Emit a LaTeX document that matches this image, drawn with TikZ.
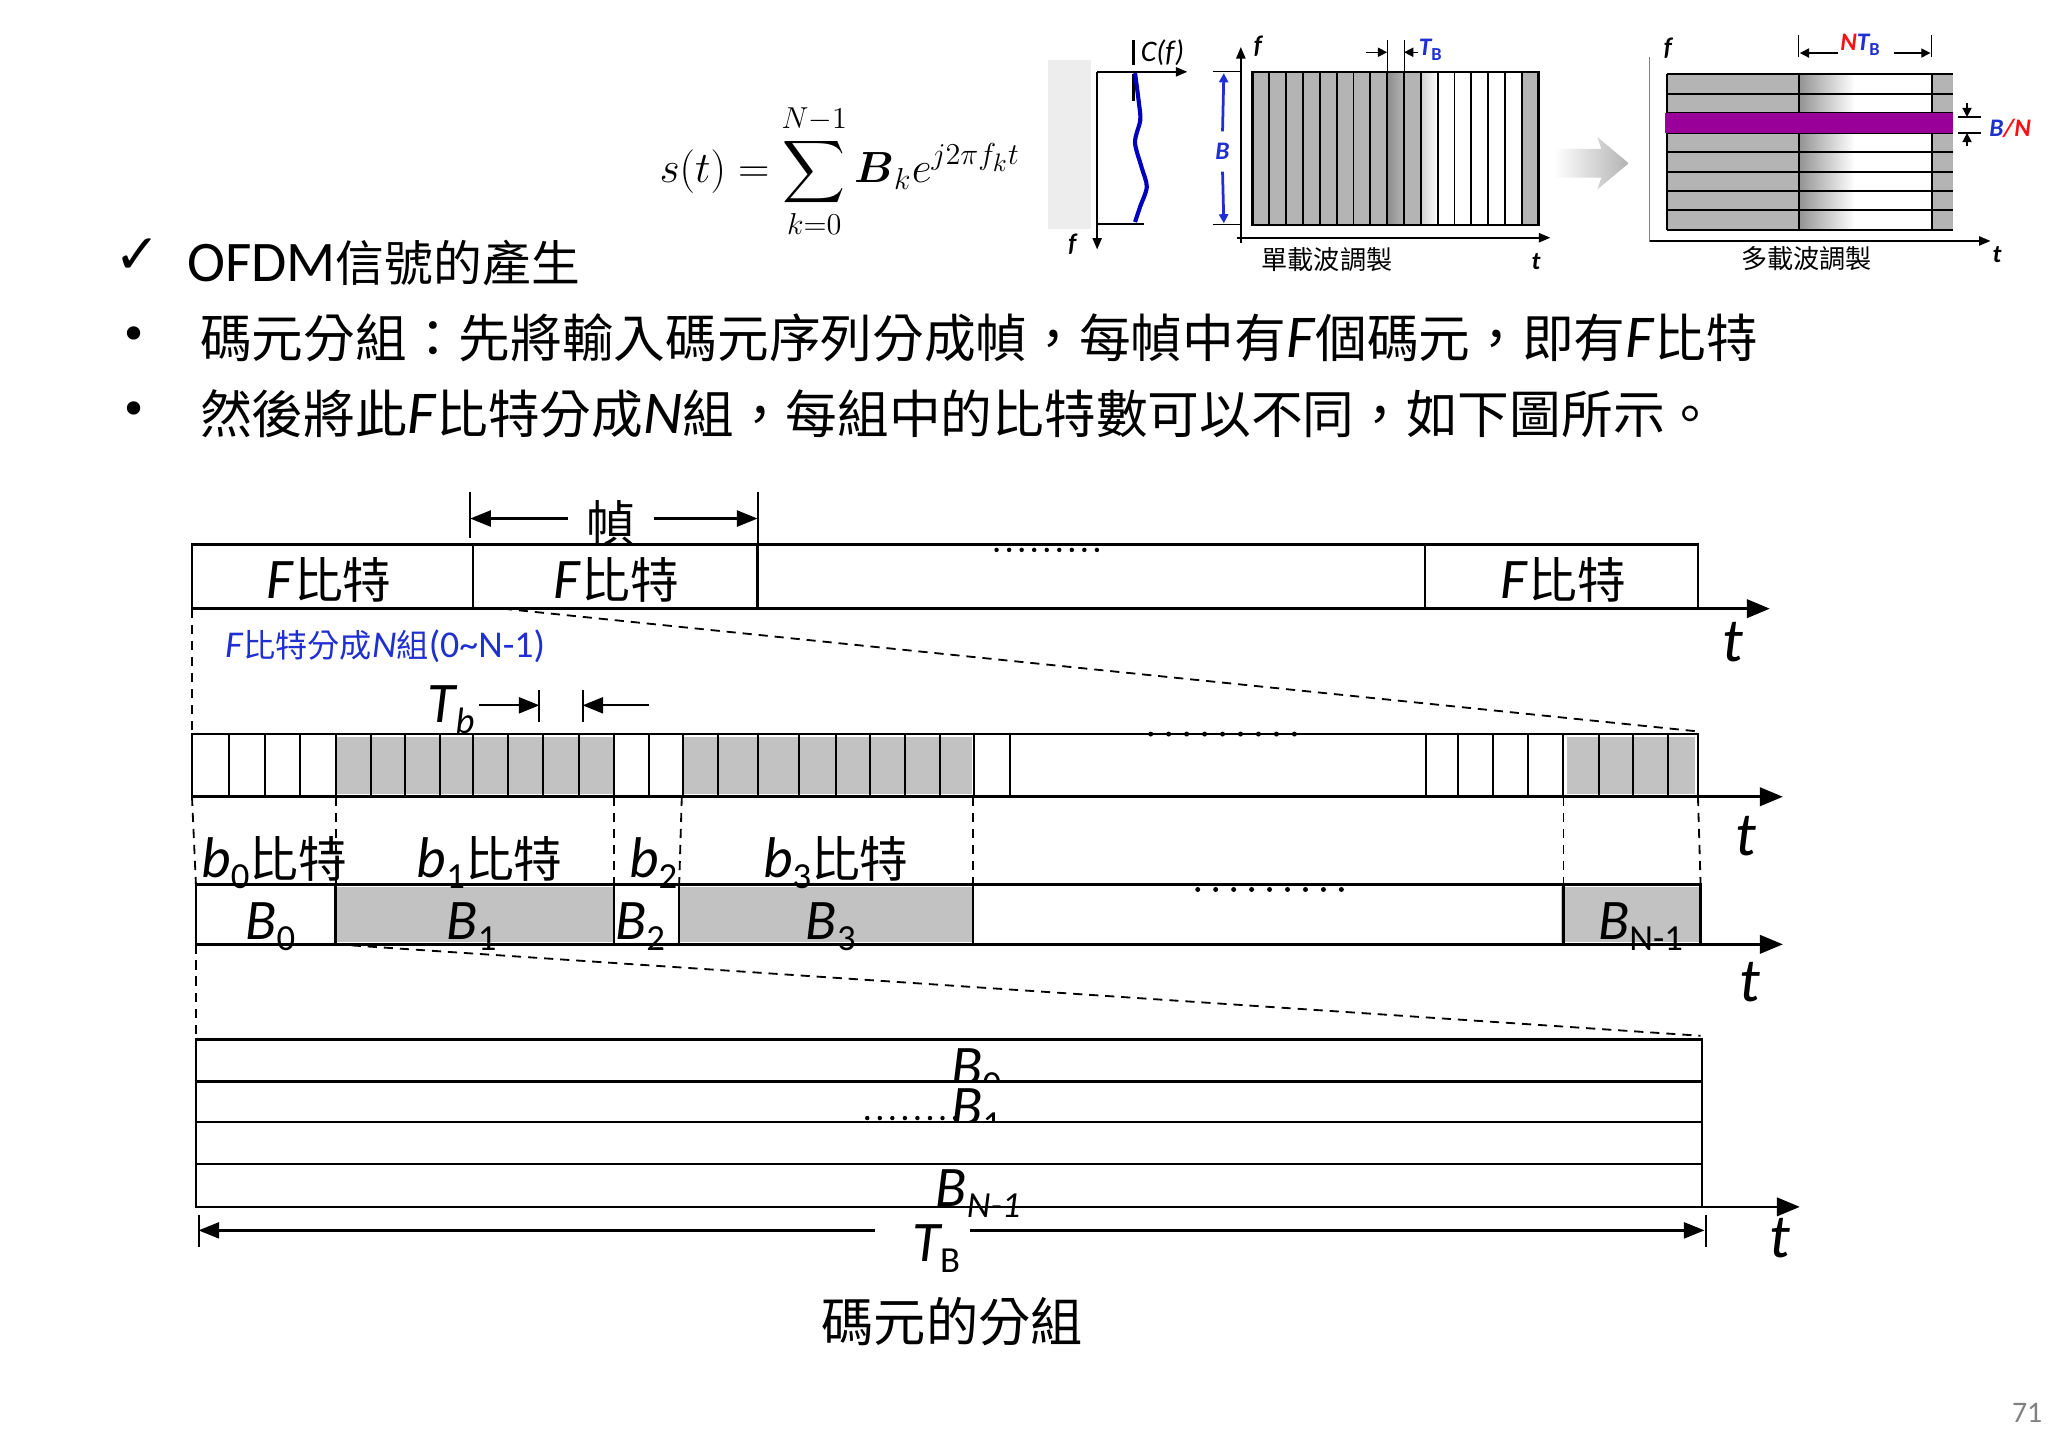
\documentclass[tikz,border=0pt]{standalone}
\usepackage{fontspec}
\usepackage{amsmath}
\usepackage{amssymb}
\setmainfont{Carlito}
\newfontfamily\cjk[Scale=0.85]{Noto Sans CJK TC}
\newfontfamily\symfont{DejaVu Sans}
\usetikzlibrary{arrows.meta,positioning,calc}

\definecolor{cellgray}{HTML}{C2C2C2}
\definecolor{figgray}{HTML}{B4B4B4}
\definecolor{bandpurple}{HTML}{990099}
\definecolor{textblue}{HTML}{1F2FD0}
\definecolor{textred}{HTML}{FF1010}

\newcommand{\zh}[1]{{\cjk #1}}
\newcommand{\fs}[1]{\fontsize{#1}{#1}\selectfont}
\newcommand{\sv}[2]{{\itshape #1}\raisebox{-0.4ex}{\fs{16}#2}}
\newcommand{\ssv}[2]{#1\raisebox{-0.4ex}{\fs{8}\upshape #2}}

\tikzset{
  frameline/.style={line width=1.1pt},
  cellline/.style={line width=0.85pt},
  taxis/.style={line width=1.2pt, -{Triangle[length=10pt,width=8pt]}},
  figaxis/.style={line width=0.8pt, -{Triangle[length=5pt,width=4pt]}},
  guide/.style={line width=0.8pt, dash pattern=on 4pt off 3pt},
  dimarrow/.style={line width=1pt, -{Triangle[length=9pt,width=7pt]}},
  smallarrow/.style={line width=0.6pt, -{Triangle[length=4pt,width=4pt]}},
  dimtick/.style={line width=0.9pt},
  lbl/.style={inner sep=0pt, font=\fs{25}},
  tlbl/.style={inner sep=0pt, font=\fs{27}\itshape},
  figlbl/.style={inner sep=0pt, font=\fs{11}\bfseries\itshape},
  figcap/.style={inner sep=0pt, font=\fs{13.4}},
  graycell/.style={fill=cellgray},
}

\begin{document}
\begin{tikzpicture}[x=0.2mm, y=-0.2mm]
    \useasboundingbox (0,0) rectangle (1568,1108);

    % Heading and text
    \node[inner sep=0pt, font=\symfont\fs{24}] (chk) at (105,196) {✓};
    \node[anchor=west, inner sep=0pt, font=\fs{25}] (title) at (143,201) {OFDM\zh{信號的產生}};
    \node[inner sep=0pt, font=\symfont\fs{20}] (dot1) at (103,259) {•};
    \node[anchor=west, inner sep=0pt, font=\fs{26.5}] (line1) at (153,259) {\zh{碼元分組：先將輸入碼元序列分成幀，每幀中有}\textit{F}\zh{個碼元，即有}\textit{F}\zh{比特}};
    \node[inner sep=0pt, font=\symfont\fs{20}] (dot2) at (103,317) {•};
    \node[anchor=west, inner sep=0pt, font=\fs{26.5}] (line2) at (153,317) {\zh{然後將此}\textit{F}\zh{比特分成}\textit{N}\zh{組，每組中的比特數可以不同，如下圖所示。}};

    % Formula
    \node[inner sep=0pt, font=\fs{17.28}] (sig) at (643,131) {\scalebox{1.1}{$\displaystyle s(t)=\sum_{k=0}^{N-1}\boldsymbol{B}_k e^{j2\pi f_k t}$}};

    % Channel response
    \fill[gray!14] (802,46) rectangle (835,175);
    \draw[figaxis] (840,55) -- (909,55);
    \draw[figaxis] (840,55) -- (840,191);
    \draw[line width=0.8pt] (840,171.5) -- (876,171.5);
    \draw[line width=1.3pt] (868,31) -- (868,50) (868,57) -- (868,77);
    \node[inner sep=0pt, font=\fs{13}\itshape] (cf) at (890,40) {C(f)};
    \node[figlbl] (cfaxis) at (821,187) {f};
    \draw[blue!75!black, line width=1.8pt] plot[smooth] coordinates {(869,56) (872,79) (873,92) (869,109) (874,128) (878,143) (873,158) (869,170)};

    % Single carrier
    \fill[figgray] (959,55) rectangle (1062,172);
    \shade[left color=gray!90, right color=figgray] (1062,55) rectangle (1075,172);
    \fill[figgray] (1075,55) rectangle (1088,172);
    \shade[left color=gray!35, right color=white] (1088,55) rectangle (1101,172);
    \fill[figgray] (1165,55) rectangle (1178,172);
    \foreach \i in {1,...,16}
        \draw[line width=0.8pt] ({959+\i*12.88},55) -- ({959+\i*12.88},172);
    \draw[line width=1pt] (959,55) rectangle (1178,172);
    \draw[figaxis] (950,186) -- (950,36);
    \draw[figaxis] (947,182) -- (1187,182);
    \node[figlbl] (scf) at (963,35) {f};
    \node[figlbl] (sct) at (1176,200) {t};
    \draw[line width=0.5pt] (1062,31) -- (1062,55) (1075,31) -- (1075,55);
    \node[figlbl, anchor=west, text=textblue] (tbs) at (1086,38) {\ssv{T}{B}};
    \coordinate (tbsa) at (1046,40);
    \coordinate (tbsl) at (1062,40);
    \coordinate (tbsr) at (1075,40);
    \draw[smallarrow] (tbsa) -- (tbsl);
    \draw[smallarrow] (tbs.west |- tbsr) -- (tbsr);
    \draw[line width=0.5pt] (929,55) -- (950,55) (929,172) -- (950,172);
    \node[figlbl, text=textblue, inner ysep=5pt] (bw) at (936,116) {B};
    \coordinate (bwt) at (937,56);
    \coordinate (bwb) at (937,171);
    \draw[smallarrow, textblue, line width=1.2pt] (bw.north) -- (bwt);
    \draw[smallarrow, textblue, line width=1.2pt] (bw.south) -- (bwb);
    \node[figcap] (sctxt) at (1016,199) {\zh{單載波調製}};

    % Big arrow
    \shade[left color=white, right color=gray!60] (1190,114) -- (1226,114) -- (1223,105) -- (1247,125) -- (1223,145) -- (1226,136) -- (1190,136) -- cycle;

    % Multi carrier
    \fill[figgray] (1276,57) rectangle (1377,176);
    \shade[left color=gray!85, right color=white] (1377,57) rectangle (1420,176);
    \fill[figgray] (1479,57) rectangle (1495,176);
    \foreach \k in {0,...,8}
        \draw[line width=0.9pt] (1276,{57+\k*14.875}) -- (1495,{57+\k*14.875});
    \foreach \x in {1276,1377,1479}
        \draw[line width=0.9pt] (\x,57) -- (\x,176);
    \fill[bandpurple] (1275,86.8) rectangle (1495,101.6);
    \draw[gray, line width=0.6pt] (1263,185) -- (1263,44);
    \draw[figaxis] (1263,184.5) -- (1524,184.5);
    \node[figlbl] (mcf) at (1277,37) {f};
    \node[figlbl] (mct) at (1529,195) {t};
    \draw[line width=0.5pt] (1377,27) -- (1377,44) (1479,27) -- (1479,44);
    \node[figlbl] (ntb) at (1424,34) {\textcolor{textred}{N}\textcolor{textblue}{\ssv{T}{B}}};
    \coordinate (ntl) at (1378,40.6);
    \coordinate (ntr) at (1478,40.6);
    \draw[smallarrow] ($(ntb.west |- ntl)+(-1pt,0)$) -- (ntl);
    \draw[smallarrow] ($(ntb.east |- ntr)+(6pt,0)$) -- (ntr);
    \draw[line width=0.5pt] (1499,89.6) -- (1517,89.6) (1499,101.8) -- (1517,101.8);
    \coordinate (bnta) at (1506,79);
    \coordinate (bnt) at (1506,89.6);
    \coordinate (bnba) at (1506,112);
    \coordinate (bnb) at (1506,101.8);
    \draw[smallarrow] (bnta) -- (bnt);
    \draw[smallarrow] (bnba) -- (bnb);
    \node[figlbl] (bn) at (1539,98) {\textcolor{textblue}{B}\textcolor{textred}{/N}};
    \node[figcap] (mctxt) at (1383,198) {\zh{多載波調製}};

    % Row 1: frames
    \draw[frameline] (147,466) -- (147,417) -- (1300,417) -- (1300,466);
    \foreach \x in {362,580,1091}
        \draw[frameline] (\x,417) -- (\x,466);
    \draw[taxis] (147,466) -- (1355,466);
    \node[lbl, anchor=base] (fb1) at (252,458) {\textit{F}\zh{比特}};
    \node[lbl, anchor=base] (fb2) at (472,458) {\textit{F}\zh{比特}};
    \node[lbl, anchor=base] (fb3) at (1197,458) {\textit{F}\zh{比特}};
    \foreach \i in {0,...,8}
        \fill ({763+\i*9.6},421) circle (1.7);
    \draw[dimtick] (360,377) -- (360,412);
    \draw[dimtick] (580,377) -- (580,417);
    \node[lbl, inner xsep=8pt] (frm) at (468,400) {\zh{幀}};
    \coordinate (frml) at (360,397);
    \coordinate (frmr) at (580,397);
    \draw[dimarrow] (frm.west |- frml) -- (frml);
    \draw[dimarrow] (frm.east |- frmr) -- (frmr);
    \node[tlbl] (t1) at (1327,492) {t};
    \node[anchor=west, inner sep=0pt, font=\fs{16.5}, text=textblue] (grp) at (172,495) {\textit{F}\zh{比特分成}\textit{N}\zh{組}(0\textasciitilde N-1)};
    \draw[guide] (147,466) -- (147,560);
    \draw[guide] (385,466) -- (1300,560);

    % Row 2: bits
    \fill[graycell] (258,564) rectangle (469,608);
    \fill[graycell] (524,564) rectangle (744,608);
    \fill[graycell] (1200,564) rectangle (1298,608);
    \draw[frameline] (147,610) -- (147,562) -- (1300,562) -- (1300,610);
    \foreach \x in {175,203,230,257,284,310,337,362,389,416,443,470,497,523,550,580,612,640,666,693,720,746,773,1092,1116,1143,1170,1197,1224,1250,1277}
        \draw[cellline] (\x,562) -- (\x,610);
    \draw[taxis] (147,610) -- (1365,610);
    \foreach \i in {0,...,8}
        \fill ({881+\i*13.75},562) circle (1.9);
    \node[lbl, anchor=base west] (tb) at (327,553) {\sv{T}{\itshape b}};
    \draw[dimtick] (413,528) -- (413,553);
    \draw[dimtick] (446,528) -- (446,553);
    \coordinate (tbr) at (413,540);
    \coordinate (tbl) at (446,540);
    \coordinate (tbs) at (497,540);
    \draw[dimarrow] ($(tb.east |- tbr)+(2pt,0)$) -- (tbr);
    \draw[dimarrow] (tbs) -- (tbl);
    \node[tlbl] (t2) at (1337,640) {t};
    \draw[guide] (147,610) -- (150,677);
    \draw[guide] (257,610) -- (257,677);
    \draw[guide] (470,610) -- (470,677);
    \draw[guide] (522,610) -- (520,677);
    \draw[guide] (745,610) -- (745,677);
    \draw[guide] (1197,610) -- (1197,677);
    \draw[guide] (1300,610) -- (1302,677);

    % Row 3: groups
    \fill[graycell] (258,679) rectangle (469,721);
    \fill[graycell] (521,679) rectangle (744,721);
    \fill[graycell] (1195,679) rectangle (1301,721);
    \draw[frameline] (150,723) -- (150,677) -- (1302,677) -- (1302,723);
    \foreach \x in {257,470,520,745,1197}
        \draw[frameline] (\x,677) -- (\x,723);
    \draw[taxis] (150,723) -- (1365,723);
    \node[lbl, anchor=base] (bit0) at (210,672) {\sv{b}{0}\zh{比特}};
    \node[lbl, anchor=base] (bit1) at (375,672) {\sv{b}{1}\zh{比特}};
    \node[lbl, anchor=base] (bit2) at (500,672) {\sv{b}{2}};
    \node[lbl, anchor=base] (bit3) at (640,672) {\sv{b}{3}\zh{比特}};
    \node[lbl, anchor=base] (grp0) at (207,719) {\sv{B}{0}};
    \node[lbl, anchor=base] (grp1) at (361,719) {\sv{B}{1}};
    \node[lbl, anchor=base] (grp2) at (490,719) {\sv{B}{2}};
    \node[lbl, anchor=base] (grp3) at (636,719) {\sv{B}{3}};
    \node[lbl, anchor=base] (grpn) at (1256,719) {\sv{B}{N-1}};
    \foreach \i in {0,...,8}
        \fill ({917+\i*13.75},681) circle (1.9);
    \node[tlbl] (t3) at (1340,752) {t};
    \draw[guide] (150,723) -- (150,795);
    \draw[guide] (257,723) -- (1302,793);

    % Row 4: parallel sub-channels
    \draw[frameline, fill=white] (150,796) rectangle (1303,828);
    \node[lbl, anchor=base west] (sub0) at (728,831) {\sv{B}{0}};
    \draw[frameline, fill=white] (150,828) rectangle (1303,859);
    \node[lbl, anchor=base west] (sub1) at (728,862) {\sv{B}{1}};
    \foreach \i in {0,...,7}
        \fill ({664+\i*9.6},856) circle (1.7);
    \draw[frameline, fill=white] (150,859) rectangle (1303,891);
    \draw[frameline, fill=white] (150,891) rectangle (1303,924);
    \draw[taxis] (150,924) -- (1378,924);
    \node[lbl, anchor=base west] (subn) at (716,924) {\sv{B}{\itshape N-1}};
    \node[tlbl] (t4) at (1363,948) {t};
    \node[lbl, anchor=base west] (tbig) at (698,966) {\sv{T}{B}};
    \draw[dimtick] (152,930) -- (152,955);
    \draw[dimtick] (1306,930) -- (1306,955);
    \coordinate (tbigl) at (152,942);
    \coordinate (tbigr) at (1305,942);
    \draw[dimarrow] ($(tbig.west |- tbigl)+(-16pt,0)$) -- (tbigl);
    \draw[dimarrow] ($(tbig.east |- tbigr)+(4pt,0)$) -- (tbigr);

    % Caption and page number
    \node[inner sep=0pt, font=\fs{26.8}] (cap) at (729,1012) {\zh{碼元的分組}};
    \node[inner sep=0pt, font=\fs{13}, text=gray] (pg) at (1552,1082) {71};
\end{tikzpicture}
\end{document}
